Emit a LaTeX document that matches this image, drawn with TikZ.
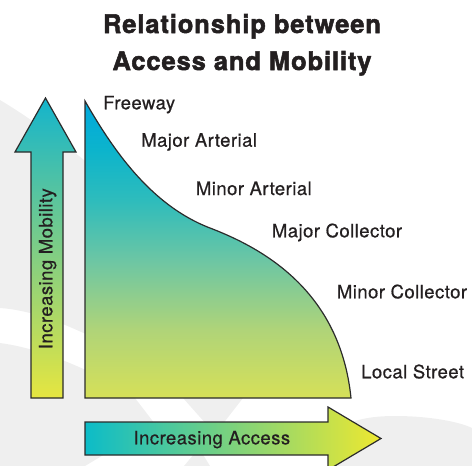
\documentclass[tikz,border=0pt]{standalone}
\usepackage{fontspec}
\setmainfont{TeX Gyre Heros}
\newfontfamily\labfont[LetterSpace=2.5, FakeBold=0.6]{TeX Gyre Heros}
\newfontfamily\ttlfont[LetterSpace=3.5, BoldFeatures={FakeBold=2}]{TeX Gyre Heros}
\definecolor{wm}{HTML}{EFEFEF}
\definecolor{edge}{HTML}{2B2B2B}
\definecolor{txt}{HTML}{231F20}
\definecolor{m0}{HTML}{00A8DE}
\definecolor{m1}{HTML}{0CB4CC}
\definecolor{m2}{HTML}{2EBCBC}
\definecolor{m3}{HTML}{6CC6A4}
\definecolor{m4}{HTML}{B0D478}
\definecolor{m5}{HTML}{D6E058}
\definecolor{vtop}{HTML}{14B4CC}
\definecolor{vmid}{HTML}{78C8A0}
\definecolor{vbot}{HTML}{E6E640}
\definecolor{hleft}{HTML}{0CBCC8}
\definecolor{hmid}{HTML}{8CCC98}
\definecolor{hright}{HTML}{EEE830}
\pgfdeclareverticalshading{mainshade}{100bp}{color(0bp)=(m5); color(25bp)=(m5); color(36.4bp)=(m4); color(48.2bp)=(m3); color(58.3bp)=(m2); color(66.8bp)=(m1); color(75bp)=(m0); color(100bp)=(m0)}
\tikzset{
  outline/.style={draw=edge, line width=1.2pt, line join=miter},
  lab/.style={font=\labfont\fontsize{18.5}{20}\selectfont, text=txt, inner sep=0pt, anchor=base west},
  ttl/.style={font=\ttlfont\bfseries\fontsize{25.5}{28}\selectfont, text=txt, inner sep=0pt, anchor=base}
}
\begin{document}
\begin{tikzpicture}[x=1pt,y=-1pt]
\useasboundingbox (0,0) rectangle (472,466);
% faint watermark
\fill[wm] (0,100) .. controls (30,118) and (60,140) .. (90,165) -- (90,336)
  .. controls (60,322) and (30,310) .. (0,308) -- cycle;
\fill[wm] (0,343) .. controls (30,347) and (60,358) .. (90,372) -- (90,398)
  -- (135,398) -- (155,424) -- (85,466) -- (0,466) -- cycle;
\fill[wm] (183,398) -- (243,398) -- (215,434) -- cycle;
\fill[wm] (184,466) -- (210,466) -- (199,448) -- cycle;
\fill[wm] (337,466) -- (337,430) .. controls (350,420) and (370,416) .. (395,416)
  .. controls (430,416) and (460,422) .. (472,428) -- (472,466) -- cycle;
% title
\node[ttl] (t1) at (242,33) {Relationship between};
\node[ttl] (t2) at (242,70) {Access and Mobility};
% main curve shape
\path[outline, shading=mainshade] (85,101) .. controls (112,148) and (150,205) .. (210,228)
  .. controls (262,248) and (340,290) .. (351,398) -- (85,398) -- cycle;
% vertical arrow
\path[outline, top color=vtop, middle color=vmid, bottom color=vbot]
  (31,398) -- (31,152) -- (15,152) -- (45.5,98) -- (76,152) -- (63,152) -- (63,398) -- cycle;
% horizontal arrow
\path[outline, left color=hleft, middle color=hmid, right color=hright]
  (85,422) -- (328,422) -- (328,407) -- (381,438.5) -- (328,470) -- (328,455) -- (85,455) -- cycle;
% labels
\node[lab] (fw) at (103,109.3) {Freeway};
\node[lab] (maa) at (141,146.7) {Major Arterial};
\node[lab] (mia) at (195.7,195) {Minor Arterial};
\node[lab] (mac) at (271.7,237.3) {Major Collector};
\node[lab] (mic) at (336.7,298.3) {Minor Collector};
\node[lab] (ls) at (361,378.3) {Local Street};
\node[lab, rotate=90] (im) at (52.3,349.3) {Increasing Mobility};
\node[lab] (ia) at (133.3,444.3) {Increasing Access};
\end{tikzpicture}
\end{document}
